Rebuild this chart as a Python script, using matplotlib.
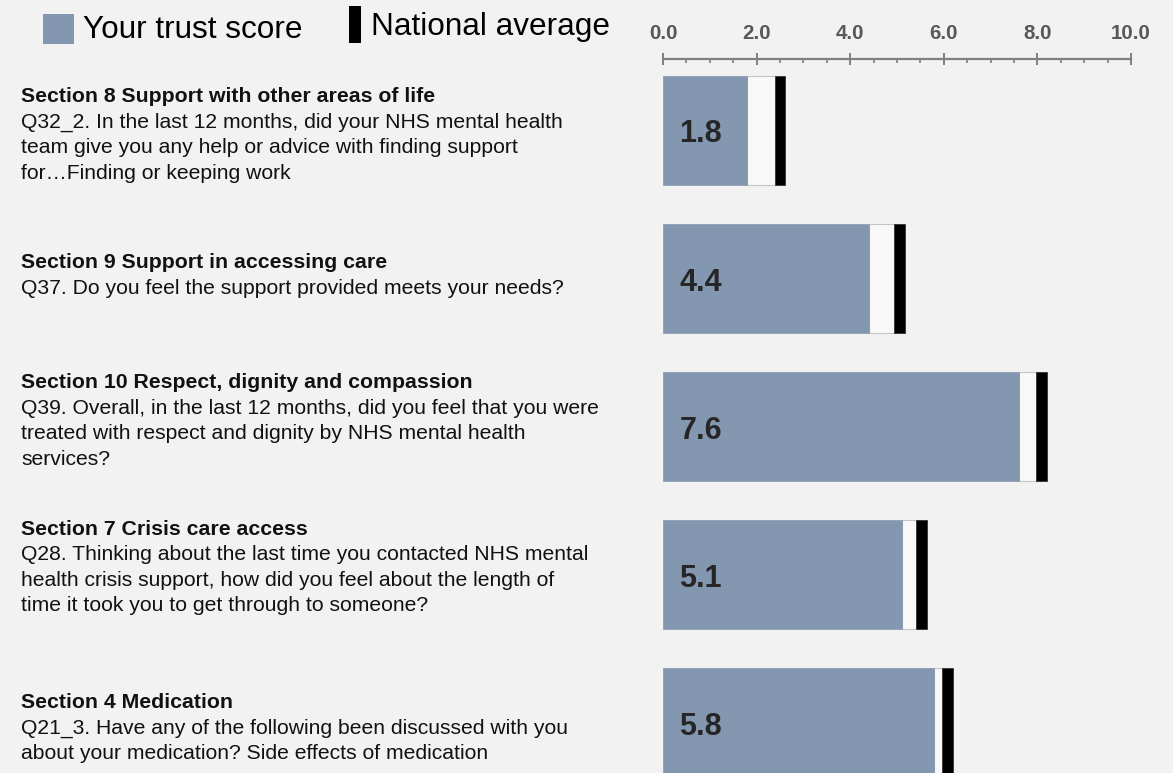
import numpy as np
import matplotlib
matplotlib.use("Agg")
import matplotlib.pyplot as plt
import matplotlib.transforms as mtransforms
from matplotlib.patches import Rectangle
from matplotlib.ticker import MultipleLocator, FormatStrFormatter

plt.rcParams['font.family'] = ['Liberation Sans', 'DejaVu Sans']

# data
sections = ["Section 8 Support with other areas of life",
            "Section 9 Support in accessing care",
            "Section 10 Respect, dignity and compassion",
            "Section 7 Crisis care access",
            "Section 4 Medication"]
questions = [["Q32_2. In the last 12 months, did your NHS mental health",
              "team give you any help or advice with finding support",
              "for\u2026Finding or keeping work"],
             ["Q37. Do you feel the support provided meets your needs?"],
             ["Q39. Overall, in the last 12 months, did you feel that you were",
              "treated with respect and dignity by NHS mental health",
              "services?"],
             ["Q28. Thinking about the last time you contacted NHS mental",
              "health crisis support, how did you feel about the length of",
              "time it took you to get through to someone?"],
             ["Q21_3. Have any of the following been discussed with you",
              "about your medication? Side effects of medication"]]
trust_score = [1.8, 4.4, 7.6, 5.1, 5.8]
national_avg = [2.5, 5.05, 8.08, 5.53, 6.07]

# small vertical nudges (px) of each text block relative to its bar
text_shift_px = [4.5, -3, -5.5, -7.5, 5.5]

BG = '#f2f2f2'
BAR = '#8497b0'
W, H = 1173, 773
ROW_PX = 148

fig = plt.figure(figsize=(W / 100, H / 100), dpi=100, facecolor=BG)
ax = fig.add_axes([663 / W, 0, 468 / W, 1 - 58.5 / H], facecolor=BG)

y = np.arange(len(trust_score))
bh = 0.736
tr = np.array(trust_score)
na = np.array(national_avg)
mark_w = 0.235

ax.barh(y, na - tr, left=tr, height=bh, color='#f8f8f8', edgecolor='#c4c4c4', linewidth=0.8, zorder=2)
ax.barh(y, tr, height=bh, color=BAR, edgecolor=BAR, linewidth=0.5, zorder=3)
ax.barh(y, mark_w, left=na - mark_w / 2, height=bh, color='black', edgecolor='#333333', linewidth=0.6, zorder=4)

for yi, v in zip(y, trust_score):
    ax.text(0.35, yi + 4 / ROW_PX, f"{v:.1f}", fontsize=22, fontweight='bold', color='#262626',
            va='center', ha='left', zorder=5)

ax.set_xlim(0, 10)
ax.set_ylim(4.338, -0.486)
ax.set_yticks([])
for s in ['left', 'right', 'bottom']:
    ax.spines[s].set_visible(False)
ax.spines['top'].set_color('#808080')
ax.spines['top'].set_linewidth(1.6)
ax.xaxis.tick_top()
ax.xaxis.set_major_locator(MultipleLocator(2))
ax.xaxis.set_minor_locator(MultipleLocator(0.5))
ax.xaxis.set_major_formatter(FormatStrFormatter('%.1f'))
ax.tick_params(axis='x', which='major', direction='inout', length=8.5, width=1.4,
               color='#808080', pad=7, labelsize=14.8, labelcolor='#595959')
ax.tick_params(axis='x', which='minor', direction='in', length=2.8, width=1.2, color='#808080')
for lab in ax.get_xticklabels():
    lab.set_fontweight('bold')

# left-hand question text
trans = mtransforms.blended_transform_factory(fig.transFigure, ax.transData)
step = 25.5 / ROW_PX
for yi, title, lines, sh in zip(y, sections, questions, text_shift_px):
    n = len(lines) + 1
    for i, line in enumerate([title] + lines):
        yy = yi + (i - (n - 1) / 2) * step + sh / ROW_PX
        ax.text(21 / W, yy, line, transform=trans, fontsize=15.3 if i == 0 else 15.2,
                color='#111111', fontweight='bold' if i == 0 else 'normal',
                va='center', ha='left', clip_on=False)

# legend
fig.patches.append(Rectangle((43 / W, 1 - 44 / H), 31 / W, 30 / H, transform=fig.transFigure,
                             facecolor=BAR, edgecolor='none'))
fig.text(83 / W, 1 - 30 / H, "Your trust score", fontsize=22.7, color='black', va='center', ha='left')
fig.patches.append(Rectangle((349 / W, 1 - 43 / H), 12 / W, 37 / H, transform=fig.transFigure,
                             facecolor='black', edgecolor='none'))
fig.text(371 / W, 1 - 27 / H, "National average", fontsize=22.7, color='black', va='center', ha='left')

fig.savefig("out.png", dpi=100, facecolor=BG)
